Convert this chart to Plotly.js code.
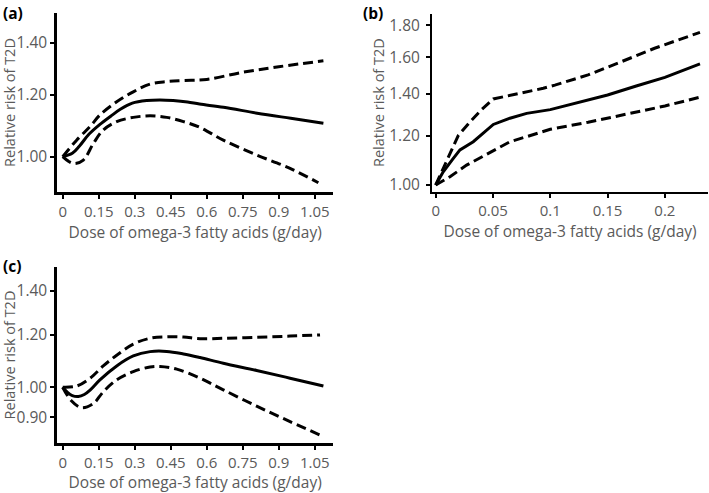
<!DOCTYPE html>
<html>
<head>
<meta charset="utf-8">
<script src="https://cdn.plot.ly/plotly-3.0.1.min.js"></script>
<style>html,body{margin:0;padding:0;background:#fff;}#chart{width:709px;height:493px;}</style>
</head>
<body>
<div id="chart"></div>
<script>
// ---------- Panel (a) ----------
const aMidX   = [0, 0.04, 0.07, 0.11, 0.155, 0.2, 0.24, 0.29, 0.35, 0.405, 0.46, 0.52, 0.57, 0.67, 0.81, 0.95, 1.086];
const aMid    = [1.000, 1.010, 1.032, 1.069, 1.100, 1.127, 1.150, 1.171, 1.180, 1.182, 1.180, 1.175, 1.168, 1.157, 1.137, 1.120, 1.104];
const aUpX    = [0, 0.058, 0.114, 0.155, 0.225, 0.294, 0.364, 0.433, 0.503, 0.6, 0.75, 0.9, 1.086];
const aUp     = [1.000, 1.050, 1.093, 1.131, 1.176, 1.211, 1.239, 1.248, 1.252, 1.256, 1.283, 1.304, 1.327];
const aLoX    = [0, 0.025, 0.05, 0.086, 0.128, 0.169, 0.225, 0.294, 0.364, 0.433, 0.503, 0.572, 0.669, 0.808, 0.947, 1.065];
const aLo     = [1.000, 0.986, 0.980, 0.990, 1.040, 1.082, 1.109, 1.123, 1.128, 1.123, 1.109, 1.090, 1.050, 1.005, 0.966, 0.926];
const acTickVals = [0, 0.15, 0.3, 0.45, 0.6, 0.75, 0.9, 1.05];
const acTickText = ["0", "0.15", "0.3", "0.45", "0.6", "0.75", "0.9", "1.05"];
const aYTickVals = [1.0, 1.2, 1.4];
const aYTickText = ["1.00", "1.20", "1.40"];

// ---------- Panel (b) ----------
const bMidX   = [0, 0.0066, 0.0154, 0.0212, 0.0328, 0.0415, 0.0503, 0.0648, 0.0794, 0.1, 0.133, 0.15, 0.175, 0.2, 0.2306];
const bMid    = [1.000, 1.050, 1.103, 1.138, 1.173, 1.212, 1.250, 1.279, 1.302, 1.320, 1.370, 1.393, 1.440, 1.487, 1.562];
const bUpX    = [0, 0.0197, 0.030, 0.040, 0.0503, 0.0648, 0.0794, 0.0939, 0.104, 0.133, 0.162, 0.191, 0.2306];
const bUp     = [1.000, 1.200, 1.262, 1.320, 1.373, 1.390, 1.407, 1.428, 1.445, 1.500, 1.575, 1.655, 1.755];
const bLoX    = [0, 0.0125, 0.027, 0.0503, 0.0648, 0.0794, 0.1, 0.133, 0.15, 0.2, 0.2306];
const bLo     = [1.000, 1.031, 1.076, 1.135, 1.173, 1.195, 1.228, 1.260, 1.279, 1.338, 1.382];
const bTickVals = [0, 0.05, 0.1, 0.15, 0.2];
const bTickText = ["0", "0.05", "0.1", "0.15", "0.2"];
const bYTickVals = [1.0, 1.2, 1.4, 1.6, 1.8];
const bYTickText = ["1.00", "1.20", "1.40", "1.60", "1.80"];

// ---------- Panel (c) ----------
const cMidX   = [0, 0.02, 0.04, 0.065, 0.09, 0.114, 0.155, 0.225, 0.294, 0.364, 0.433, 0.503, 0.572, 0.669, 0.808, 0.947, 1.086];
const cMid    = [1.000, 0.982, 0.971, 0.968, 0.975, 0.990, 1.026, 1.077, 1.115, 1.132, 1.133, 1.123, 1.109, 1.087, 1.060, 1.032, 1.004];
const cUpX    = [0, 0.058, 0.114, 0.169, 0.225, 0.294, 0.364, 0.433, 0.503, 0.572, 0.669, 0.808, 0.947, 1.072];
const cUp     = [1.000, 1.004, 1.032, 1.077, 1.118, 1.162, 1.186, 1.192, 1.191, 1.184, 1.186, 1.190, 1.195, 1.200];
const cLoX    = [0, 0.035, 0.079, 0.128, 0.169, 0.225, 0.294, 0.364, 0.405, 0.475, 0.572, 0.669, 0.808, 0.947, 1.086];
const cLo     = [1.000, 0.955, 0.931, 0.945, 0.984, 1.026, 1.056, 1.073, 1.075, 1.065, 1.032, 0.991, 0.936, 0.887, 0.842];
const cYTickVals = [0.9, 1.0, 1.2, 1.4];
const cYTickText = ["0.90", "1.00", "1.20", "1.40"];

const yTitle = "Relative risk of T2D";
const xTitle = "Dose of omega-3 fatty acids (g/day)";
const panelLabels = ["(a)", "(b)", "(c)"];

const FONT = "Open Sans, Noto Sans, sans-serif";
const GREY = "#5a5a5a";
const DASH = "10px,5px";

function tr(x, y, xa, ya, dashed, shape) {
  return {
    x: x, y: y, xaxis: xa, yaxis: ya, type: "scatter", mode: "lines",
    line: {color: "#000", width: 3, dash: dashed ? DASH : "solid", shape: shape, smoothing: 1},
    hoverinfo: "skip", showlegend: false
  };
}

const data = [
  tr(aUpX, aUp, "x", "y", true, "spline"),
  tr(aMidX, aMid, "x", "y", false, "spline"),
  tr(aLoX, aLo, "x", "y", true, "spline"),
  tr(bUpX, bUp, "x2", "y2", true, "linear"),
  tr(bMidX, bMid, "x2", "y2", false, "linear"),
  tr(bLoX, bLo, "x2", "y2", true, "linear"),
  tr(cUpX, cUp, "x3", "y3", true, "spline"),
  tr(cMidX, cMid, "x3", "y3", false, "spline"),
  tr(cLoX, cLo, "x3", "y3", true, "spline")
];

function xax(domain, range, vals, text, anchor, lw) {
  return {
    domain: domain, range: range, anchor: anchor, type: "linear",
    showgrid: false, zeroline: false, showline: true, linecolor: "#000", linewidth: lw,
    ticks: "outside", ticklen: 4, tickwidth: 2, tickcolor: "#000",
    tickvals: vals, ticktext: text,
    tickfont: {family: FONT, size: 15, color: GREY},
    title: {text: xTitle, font: {family: FONT, size: 15.5, color: GREY}, standoff: 6},
    automargin: false, fixedrange: true
  };
}
function yax(domain, range, vals, text, anchor, lw, lblStandoff) {
  return {
    domain: domain, range: range, anchor: anchor, type: "log",
    showgrid: false, zeroline: false, showline: true, linecolor: "#000", linewidth: lw,
    ticks: "outside", ticklen: 4, tickwidth: 2, tickcolor: "#000",
    tickvals: vals, ticktext: text, ticklabelstandoff: lblStandoff,
    tickfont: {family: FONT, size: 15.5, color: GREY},
    title: {text: yTitle, font: {family: FONT, size: 14.5, color: GREY}, standoff: 1},
    automargin: false, fixedrange: true
  };
}

const W = 709, H = 493;
const layout = {
  width: W, height: H,
  margin: {l: 0, r: 0, t: 0, b: 0},
  paper_bgcolor: "#fff", plot_bgcolor: "#fff",
  showlegend: false,
  xaxis:  xax([57.3 / W, 333 / W], [-0.0225, 1.126], acTickVals, acTickText, "y", 3),
  yaxis:  yax([1 - 192 / H, 1 - 13 / H], [-0.0453, 0.1842], aYTickVals, aYTickText, "x", 3, 0),
  xaxis2: xax([432 / W, 708 / W], [-0.0032, 0.2376], bTickVals, bTickText, "y2", 2),
  yaxis2: yax([1 - 191.7 / H, 1 - 13.5 / H], [-0.0107, 0.2744], bYTickVals, bYTickText, "x2", 2, 3),
  xaxis3: xax([57.3 / W, 333 / W], [-0.0225, 1.126], acTickVals, acTickText, "y3", 3),
  yaxis3: yax([1 - 443.3 / H, 1 - 266.7 / H], [-0.0849, 0.1824], cYTickVals, cYTickText, "x3", 3, 0),
  annotations: [
    {text: "<b>" + panelLabels[0] + "</b>", xref: "paper", yref: "paper", x: 1 / W, y: 1 - 13 / H, xanchor: "left", yanchor: "middle", showarrow: false, font: {family: FONT, size: 15.5, color: "#000"}},
    {text: "<b>" + panelLabels[1] + "</b>", xref: "paper", yref: "paper", x: 361 / W, y: 1 - 13 / H, xanchor: "left", yanchor: "middle", showarrow: false, font: {family: FONT, size: 15.5, color: "#000"}},
    {text: "<b>" + panelLabels[2] + "</b>", xref: "paper", yref: "paper", x: 1 / W, y: 1 - 266 / H, xanchor: "left", yanchor: "middle", showarrow: false, font: {family: FONT, size: 15.5, color: "#000"}}
  ]
};

Plotly.newPlot("chart", data, layout, {staticPlot: true, displayModeBar: false});
</script>
</body>
</html>
